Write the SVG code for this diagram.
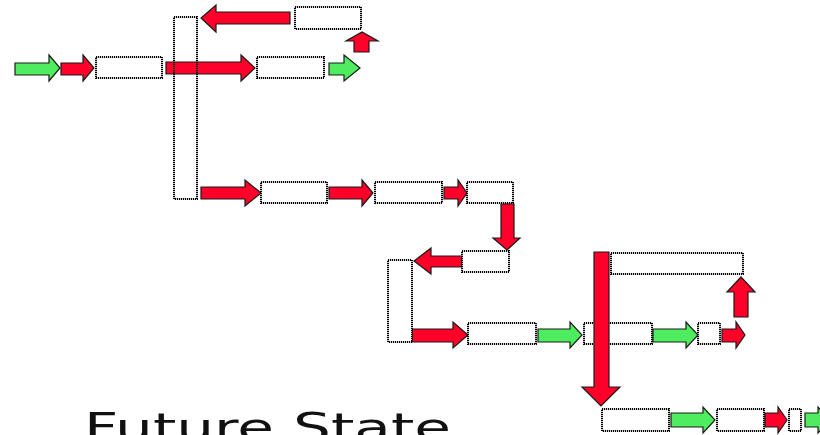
<svg xmlns="http://www.w3.org/2000/svg" width="820" height="435" viewBox="0 0 820 435">
  <style>
    .box { fill: #fff; stroke: #000; stroke-width: 2; stroke-dasharray: 1.2 0.8; }
    .frame { fill: none; stroke: #000; stroke-width: 2; stroke-dasharray: 1.2 0.8; }
    .red { fill: #ff0028; stroke: #1a1a1a; stroke-width: 1.2; stroke-linejoin: miter; }
    .green { fill: #4ded5f; stroke: #1a1a1a; stroke-width: 1.2; stroke-linejoin: miter; }
    .title { font-family: "DejaVu Sans", "Liberation Sans", sans-serif; font-size: 39px; fill: #111; }
  </style>
  <rect width="820" height="435" fill="#fff"/>

  <!-- flow arrows -->
  <g id="connectors">
    <!-- top row -->
    <polygon class="green" points="15,63 49,63 49,55 60,68 49,81 49,75 15,75"/>
    <polygon class="red" points="61,63 83,63 83,55 94,68 83,81 83,75 61,75"/>
    <polygon class="red" points="166,62 241,62 241,55 255,68 241,81 241,74 166,74"/>
    <polygon class="green" points="329,63 344,63 344,55 360,68 344,81 344,75 329,75"/>
    <polygon class="red" points="354,52 354,41 346,41 362,32 378,41 369,41 369,52"/>
    <polygon class="red" points="290,12 216,12 216,5 201,18 216,32 216,24 290,24"/>
    <!-- second row -->
    <polygon class="red" points="201,187 245,187 245,180 261,193 245,206 245,199 201,199"/>
    <polygon class="red" points="329,187 362,187 362,180 373,193 362,206 362,199 329,199"/>
    <polygon class="red" points="444,187 458,187 458,180 467,193 458,206 458,199 444,199"/>
    <polygon class="red" points="501,204 514,204 514,238 520,238 507,250 493,238 501,238"/>
    <polygon class="red" points="462,256 431,256 431,248 414,261 431,274 431,267 462,267"/>
    <!-- third row -->
    <polygon class="red" points="412,329 453,329 453,322 468,335 453,348 453,342 412,342"/>
    <polygon class="green" points="538,329 570,329 570,322 582,335 570,348 570,342 538,342"/>
    <polygon class="green" points="653,329 686,329 686,322 698,335 686,348 686,342 653,342"/>
    <polygon class="red" points="722,329 736,329 736,322 745,335 736,348 736,342 722,342"/>
    <polygon class="red" points="734,317 734,292 727,292 741,277 755,292 748,292 748,317"/>
    <!-- bottom row -->
    <polygon class="green" points="671,413 703,413 703,407 715,420 703,433 703,427 671,427"/>
    <polygon class="red" points="765,413 778,413 778,407 787,420 778,433 778,427 765,427"/>
    <polygon class="green" points="805,413 818,413 818,407 830,420 818,433 818,427 805,427"/>
  </g>

  <!-- process steps -->
  <g id="step-a"><rect class="box" x="96" y="57" width="66" height="21"/></g>
  <g id="merge-a"><rect class="frame" x="174" y="17" width="23" height="182"/></g>
  <g id="step-b"><rect class="box" x="257" y="57" width="67" height="21"/></g>
  <g id="step-c"><rect class="box" x="295" y="7" width="66" height="22"/></g>
  <g id="step-d"><rect class="box" x="261" y="182" width="66" height="21"/></g>
  <g id="step-e"><rect class="box" x="375" y="182" width="67" height="21"/></g>
  <g id="step-f"><rect class="box" x="467" y="182" width="46" height="21"/></g>
  <g id="step-g"><rect class="box" x="462" y="251" width="47" height="21"/></g>
  <g id="merge-b"><rect class="box" x="388" y="260" width="24" height="82"/></g>
  <g id="step-h"><rect class="box" x="468" y="323" width="68" height="21"/></g>
  <g id="step-i"><rect class="box" x="584" y="323" width="68" height="21"/></g>
  <g id="step-j"><rect class="box" x="698" y="323" width="22" height="21"/></g>
  <g id="step-k"><rect class="box" x="611" y="253" width="132" height="21"/></g>
  <g id="step-l"><rect class="box" x="602" y="409" width="67" height="22"/></g>
  <g id="step-m"><rect class="box" x="717" y="409" width="47" height="22"/></g>
  <g id="step-n"><rect class="box" x="789" y="409" width="12" height="22"/></g>

  <!-- long drop arrow over the third row -->
  <g id="drop">
    <polygon class="red" points="594,252 609,252 609,387 620,387 601,406 582,387 594,387"/>
  </g>

  <text class="title" x="84" y="441" textLength="367" lengthAdjust="spacingAndGlyphs">Future State</text>
</svg>
